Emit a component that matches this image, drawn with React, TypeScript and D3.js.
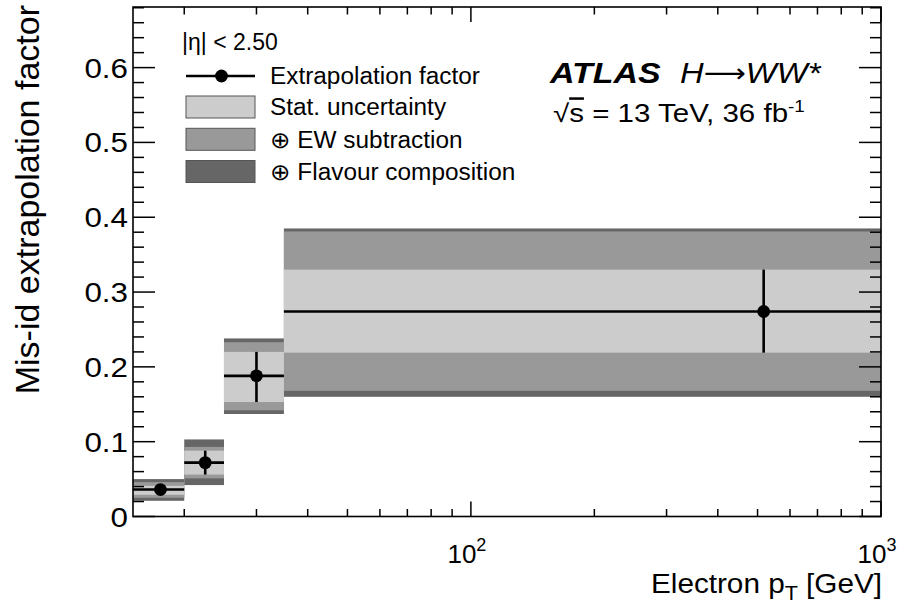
import React from "react";
import * as d3 from "d3";

const xEdges = [15, 20, 25, 35, 1000];
const xCenters = [17.5, 22.5, 30, 517.5];
const factor = [0.036, 0.072, 0.188, 0.274];
const statLo = [0.029, 0.056, 0.153, 0.219];
const statHi = [0.041, 0.088, 0.22, 0.33];
const ewLo = [0.025, 0.051, 0.142, 0.168];
const ewHi = [0.046, 0.093, 0.233, 0.381];
const flavLo = [0.021, 0.042, 0.137, 0.16];
const flavHi = [0.05, 0.103, 0.238, 0.385];

const legendHeader = "|η| < 2.50";
const legendLabels = ["Extrapolation factor", "Stat. uncertainty", "⊕ EW subtraction", "⊕ Flavour composition"];
const bandColors = ["#cccccc", "#999999", "#666666"];

const W = 904, H = 609;
const L = 133, R = 881, T = 7, B = 516.5;
const FONT = "'Liberation Sans', Arial, Helvetica, sans-serif";

function SText(props: any) {
  const { x, y, sx = 1, rotate = 0, children, ...rest } = props;
  return (
    <g transform={`translate(${x},${y}) rotate(${rotate}) scale(${sx},1)`}>
      <text x={0} y={0} {...rest}>{children}</text>
    </g>
  );
}

export default function App() {
  const x = d3.scaleLog().domain([15, 1000]).range([L, R]);
  const y = d3.scaleLinear().domain([0, 0.681]).range([B, T]);
  const xt = x.ticks();
  const yt = d3.range(0, 0.681, 0.02);
  const nBins = factor.length;
  const isDecade = (v: number) => Math.abs(Math.log10(v) - Math.round(Math.log10(v))) < 1e-9;
  const band = (lo: number[], hi: number[], color: string, key: string) =>
    d3.range(nBins).map((i) => (
      <rect key={key + i} x={x(xEdges[i])} width={x(xEdges[i + 1]) - x(xEdges[i])}
        y={y(hi[i])} height={y(lo[i]) - y(hi[i])} fill={color} />
    ));
  const rowY = [76, 107, 139.3, 171.5];
  return (
    <svg width={W} height={H} style={{ position: "absolute", left: 0, top: 0, background: "#fff" }} fontFamily={FONT}>
      <rect x={0} y={0} width={W} height={H} fill="#fff" />
      {band(flavLo, flavHi, bandColors[2], "f")}
      {band(ewLo, ewHi, bandColors[1], "e")}
      {band(statLo, statHi, bandColors[0], "s")}
      {d3.range(nBins).map((i) => (
        <g key={"p" + i}>
          <line x1={x(xEdges[i])} x2={x(xEdges[i + 1])} y1={y(factor[i])} y2={y(factor[i])} stroke="#000" strokeWidth={2.6} />
          <line x1={x(xCenters[i])} x2={x(xCenters[i])} y1={y(statLo[i])} y2={y(statHi[i])} stroke="#000" strokeWidth={2.6} />
          <circle cx={x(xCenters[i])} cy={y(factor[i])} r={6.4} fill="#000" />
        </g>
      ))}
      <rect x={L} y={T} width={R - L} height={B - T} fill="none" stroke="#000" strokeWidth={1.6} />
      {xt.map((v, i) => {
        const len = isDecade(v) ? 15 : 7.5;
        return (
          <g key={"xt" + i}>
            <line x1={x(v)} x2={x(v)} y1={B} y2={B - len} stroke="#000" strokeWidth={1.5} />
            <line x1={x(v)} x2={x(v)} y1={T} y2={T + len} stroke="#000" strokeWidth={1.5} />
          </g>
        );
      })}
      {yt.map((v, i) => {
        const major = Math.round(v * 50) % 5 === 0;
        const len = major ? 22 : 11;
        return (
          <g key={"yt" + i}>
            <line x1={L} x2={L + len} y1={y(v)} y2={y(v)} stroke="#000" strokeWidth={1.5} />
            <line x1={R} x2={R - len} y1={y(v)} y2={y(v)} stroke="#000" strokeWidth={1.5} />
            {major && (
              <SText x={128} y={y(v)} sx={1.12} dy="0.36em" textAnchor="end" fontSize={28}>{d3.format(".1~f")(v)}</SText>
            )}
          </g>
        );
      })}
      {xt.filter(isDecade).map((v, i) => (
        <text key={"xl" + i} x={x(v) - 4} y={563} textAnchor="middle" fontSize={26}>
          10<tspan dy={-12} fontSize={18}>{Math.round(Math.log10(v))}</tspan>
        </text>
      ))}
      <SText x={R + 1} y={593} sx={1.08} textAnchor="end" fontSize={27.5}>
        Electron p<tspan dy={7} fontSize={20}>T</tspan><tspan dy={-7}> [GeV]</tspan>
      </SText>
      <SText x={39} y={T - 2} rotate={-90} textAnchor="end" fontSize={34}>
        Mis-id extrapolation factor
      </SText>
      <text x={182} y={50} fontSize={23}>{legendHeader}</text>
      <line x1={186} x2={255} y1={rowY[0]} y2={rowY[0]} stroke="#000" strokeWidth={2.6} />
      <circle cx={221.5} cy={rowY[0]} r={6.4} fill="#000" />
      {[0, 1, 2].map((k) => (
        <rect key={"lb" + k} x={186} y={rowY[k + 1] - 11} width={69} height={22} fill={bandColors[k]} stroke="#555" strokeWidth={1} />
      ))}
      {legendLabels.map((s, k) => (
        <SText key={"lt" + k} x={270} y={rowY[k]} sx={1.06} dy="0.36em" fontSize={23}>{s}</SText>
      ))}
      <SText x={550} y={83} sx={1.17} fontSize={29} fontWeight="bold" fontStyle="italic">ATLAS</SText>
      <SText x={680} y={83} sx={1.13} fontSize={29} fontStyle="italic">
        H<tspan fontStyle="normal" fontFamily="'DejaVu Sans', sans-serif" fontSize={26} dy={-1}>⟶</tspan><tspan dy={1}>WW*</tspan>
      </SText>
      <SText x={553} y={122} sx={1.18} fontSize={25}>
        √<tspan style={{ textDecoration: "overline" }}>s</tspan> = 13 TeV, 36 fb<tspan dy={-10} fontSize={16}>-1</tspan>
      </SText>
    </svg>
  );
}
